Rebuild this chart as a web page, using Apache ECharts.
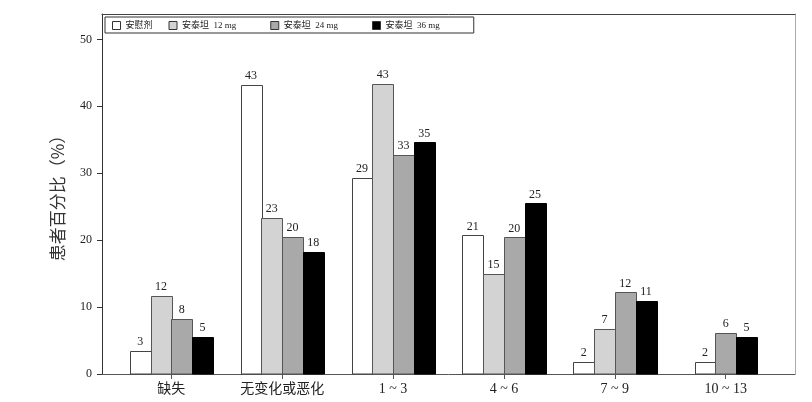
<!DOCTYPE html>
<html>
<head>
<meta charset="utf-8">
<script src="https://cdn.jsdelivr.net/npm/echarts@6/dist/echarts.min.js"></script>
<style>html,body{margin:0;padding:0;background:#fff;}#c{width:812px;height:402px;}</style>
</head>
<body>
<div id="c"></div>
<script>
var categories = ['缺失', '无变化或恶化', '1 ~ 3', '4 ~ 6', '7 ~ 9', '10 ~ 13'];
var seriesNames = ['安慰剂', '安泰坦  12 mg', '安泰坦  24 mg', '安泰坦  36 mg'];
var placebo = [3.4, 43.2, 29.3, 20.7, 1.75, 1.75];
var dose12 = [11.7, 23.3, 43.3, 15.0, 6.7, null];
var dose24 = [8.2, 20.5, 32.7, 20.4, 12.2, 6.1];
var dose36 = [5.5, 18.2, 34.6, 25.5, 10.9, 5.5];
var placeboLabels = [3, 43, 29, 21, 2, 2];
var dose12Labels = [12, 23, 43, 15, 7, null];
var dose24Labels = [8, 20, 33, 20, 12, 6];
var dose36Labels = [5, 18, 35, 25, 11, 5];
var yTicks = [0, 10, 20, 30, 40, 50];
var xTicks = [0, 1, 2, 3, 4, 5];

var allValues = [placebo, dose12, dose24, dose36];
var allLabels = [placeboLabels, dose12Labels, dose24Labels, dose36Labels];
var fills = ['#ffffff', '#d3d3d3', '#a9a9a9', '#000000'];
var strokes = ['#444444', '#555555', '#555555', '#000000'];
var serif = '"Liberation Serif", "Noto Sans CJK SC", serif';
var BAR_UNITS = 0.187;
var legendPad = [0, 8, 8, 12];

function makeRender(si) {
  return function (params, api) {
    var idx = api.value(0);
    var val = api.value(1);
    var present = [];
    for (var s = 0; s < allValues.length; s++) {
      if (allValues[s][idx] != null) present.push(s);
    }
    var n = present.length;
    var k = present.indexOf(si);
    var w = api.size([BAR_UNITS, 0])[0];
    var cx = api.coord([idx, 0])[0];
    var base = api.coord([idx, 0])[1];
    var top = api.coord([idx, val])[1];
    var left = cx - n * w / 2 + k * w;
    var lbl = allLabels[si][idx];
    return {
      type: 'group',
      children: [
        {
          type: 'rect',
          shape: { x: Math.round(left) + 0.5, y: Math.round(top) + 0.5, width: Math.round(w), height: base - Math.round(top) - 0.5 },
          style: { fill: fills[si], stroke: strokes[si], lineWidth: 1 }
        },
        {
          type: 'text',
          x: left + w / 2,
          y: top - 3,
          style: {
            text: String(lbl),
            fill: '#222',
            font: '12px ' + serif,
            textAlign: 'center',
            textVerticalAlign: 'bottom'
          }
        }
      ]
    };
  };
}

var series = [];
for (var s = 0; s < allValues.length; s++) {
  var data = [];
  for (var i = 0; i < categories.length; i++) {
    if (allValues[s][i] != null) data.push([i, allValues[s][i]]);
  }
  series.push({
    type: 'custom',
    name: seriesNames[s],
    xAxisIndex: 0,
    yAxisIndex: 0,
    renderItem: makeRender(s),
    encode: { x: 0, y: 1 },
    itemStyle: { color: fills[s], borderColor: strokes[s] },
    data: data,
    silent: true
  });
}

var chart = echarts.init(document.getElementById('c'), null, { renderer: 'canvas' });
chart.setOption({
  animation: false,
  backgroundColor: '#ffffff',
  grid: { left: 102, right: 17, top: 14, bottom: 28, containLabel: false },
  legend: {
    left: 105,
    top: 17,
    orient: 'horizontal',
    padding: [4, 7, 3, 7],
    itemGap: 16,
    itemWidth: 8,
    itemHeight: 8,
    borderColor: '#333',
    borderWidth: 1,
    borderRadius: 0,
    selectedMode: false,
    textStyle: {
      fontFamily: serif,
      fontSize: 9,
      color: '#222'
    },
    formatter: function (name) {
      var i = seriesNames.indexOf(name);
      var pad = '';
      for (var p = 0; p < legendPad[i]; p++) pad += '\u00a0';
      return name + pad;
    },
    data: seriesNames.map(function (nm, i) {
      return { name: nm, icon: 'rect', itemStyle: { color: fills[i], borderColor: '#333', borderWidth: 1 } };
    })
  },
  xAxis: [
    {
      type: 'value',
      min: -0.625,
      max: 5.625,
      position: 'bottom',
      axisLine: { show: true, onZero: false, lineStyle: { color: '#555', width: 1 } },
      axisTick: { show: true, customValues: xTicks, length: 5, lineStyle: { color: '#555' } },
      axisLabel: {
        customValues: xTicks,
        formatter: function (v) { return categories[Math.round(v)]; },
        fontFamily: serif,
        fontSize: 14,
        color: '#222',
        margin: 8
      },
      splitLine: { show: false }
    },
    {
      type: 'value',
      min: -0.625,
      max: 5.625,
      position: 'top',
      axisLine: { show: true, onZero: false, lineStyle: { color: '#444', width: 1 } },
      axisTick: { show: false },
      axisLabel: { show: false },
      splitLine: { show: false }
    }
  ],
  yAxis: [
    {
      type: 'value',
      min: 0,
      max: 53.8,
      interval: 10,
      position: 'left',
      name: '患者百分比（%）',
      nameLocation: 'middle',
      nameGap: 36,
      nameTextStyle: { fontFamily: '"Noto Sans CJK SC", sans-serif', fontSize: 17, color: '#333' },
      axisLine: { show: true, onZero: false, lineStyle: { color: '#333', width: 1 } },
      axisTick: { show: true, customValues: yTicks, length: 5, lineStyle: { color: '#333' } },
      axisLabel: { customValues: yTicks, fontFamily: serif, fontSize: 12, color: '#222', margin: 10 },
      splitLine: { show: false }
    },
    {
      type: 'value',
      min: 0,
      max: 53.8,
      position: 'right',
      axisLine: { show: true, onZero: false, lineStyle: { color: '#aaa', width: 1 } },
      axisTick: { show: false },
      axisLabel: { show: false },
      splitLine: { show: false }
    }
  ],
  series: series
});
</script>
</body>
</html>
